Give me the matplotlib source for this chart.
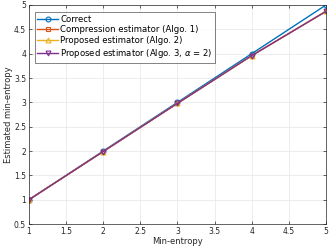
import matplotlib.pyplot as plt
import numpy as np

x = [1, 2, 3, 4, 5]
correct = [1, 2, 3, 4, 5]
compression = [1, 1.99, 2.98, 3.96, 4.87]
proposed2 = [1, 1.99, 2.98, 3.96, 4.87]
proposed3 = [1, 1.99, 2.98, 3.96, 4.87]

labels = ["Correct", "Compression estimator (Algo. 1)",
          "Proposed estimator (Algo. 2)",
          r"Proposed estimator (Algo. 3, $\alpha$ = 2)"]

plt.rcParams["font.family"] = "DejaVu Sans"
plt.rcParams["mathtext.fontset"] = "dejavusans"

fig = plt.figure(figsize=(3.32, 2.49), dpi=100)
ax = fig.add_axes([0.087, 0.10, 0.895, 0.88])

ax.plot(x, correct, "-o", color="#0072BD", lw=1.0, ms=3.5, mfc="none", mew=0.8, label=labels[0])
ax.plot(x, compression, "-s", color="#D95319", lw=1.0, ms=3.5, mfc="none", mew=0.8, label=labels[1])
ax.plot(x, proposed2, "-^", color="#EDB120", lw=1.0, ms=3.5, mfc="none", mew=0.8, label=labels[2])
ax.plot(x, proposed3, "-v", color="#7E2F8E", lw=1.0, ms=3.5, mfc="none", mew=0.8, label=labels[3])

ax.set_xlim(1, 5)
ax.set_ylim(0.5, 5)
ax.set_xticks(np.arange(1, 5.01, 0.5))
ax.set_yticks(np.arange(0.5, 5.01, 0.5))
ax.set_xticklabels(["1", "1.5", "2", "2.5", "3", "3.5", "4", "4.5", "5"])
ax.set_yticklabels(["0.5", "1", "1.5", "2", "2.5", "3", "3.5", "4", "4.5", "5"])
ax.tick_params(direction="in", labelsize=5.5, colors="#262626", length=2, width=0.5,
               top=True, right=True, pad=2)
ax.grid(True, color="#e6e6e6", lw=0.5)
ax.set_axisbelow(True)
for s in ax.spines.values():
    s.set_color("#262626")
    s.set_linewidth(0.5)
ax.set_xlabel("Min-entropy", fontsize=6, color="#262626", labelpad=1)
ax.set_ylabel("Estimated min-entropy", fontsize=6, color="#262626", labelpad=1)

leg = ax.legend(loc="upper left", fontsize=6.1, frameon=True, fancybox=False,
                handlelength=2.4, borderpad=0.3, labelspacing=0.22,
                handletextpad=0.3, borderaxespad=0,
                bbox_to_anchor=(0.02, 0.968))
leg.get_frame().set_edgecolor("#262626")
leg.get_frame().set_linewidth(0.5)

fig.savefig("out.png", dpi=100)
